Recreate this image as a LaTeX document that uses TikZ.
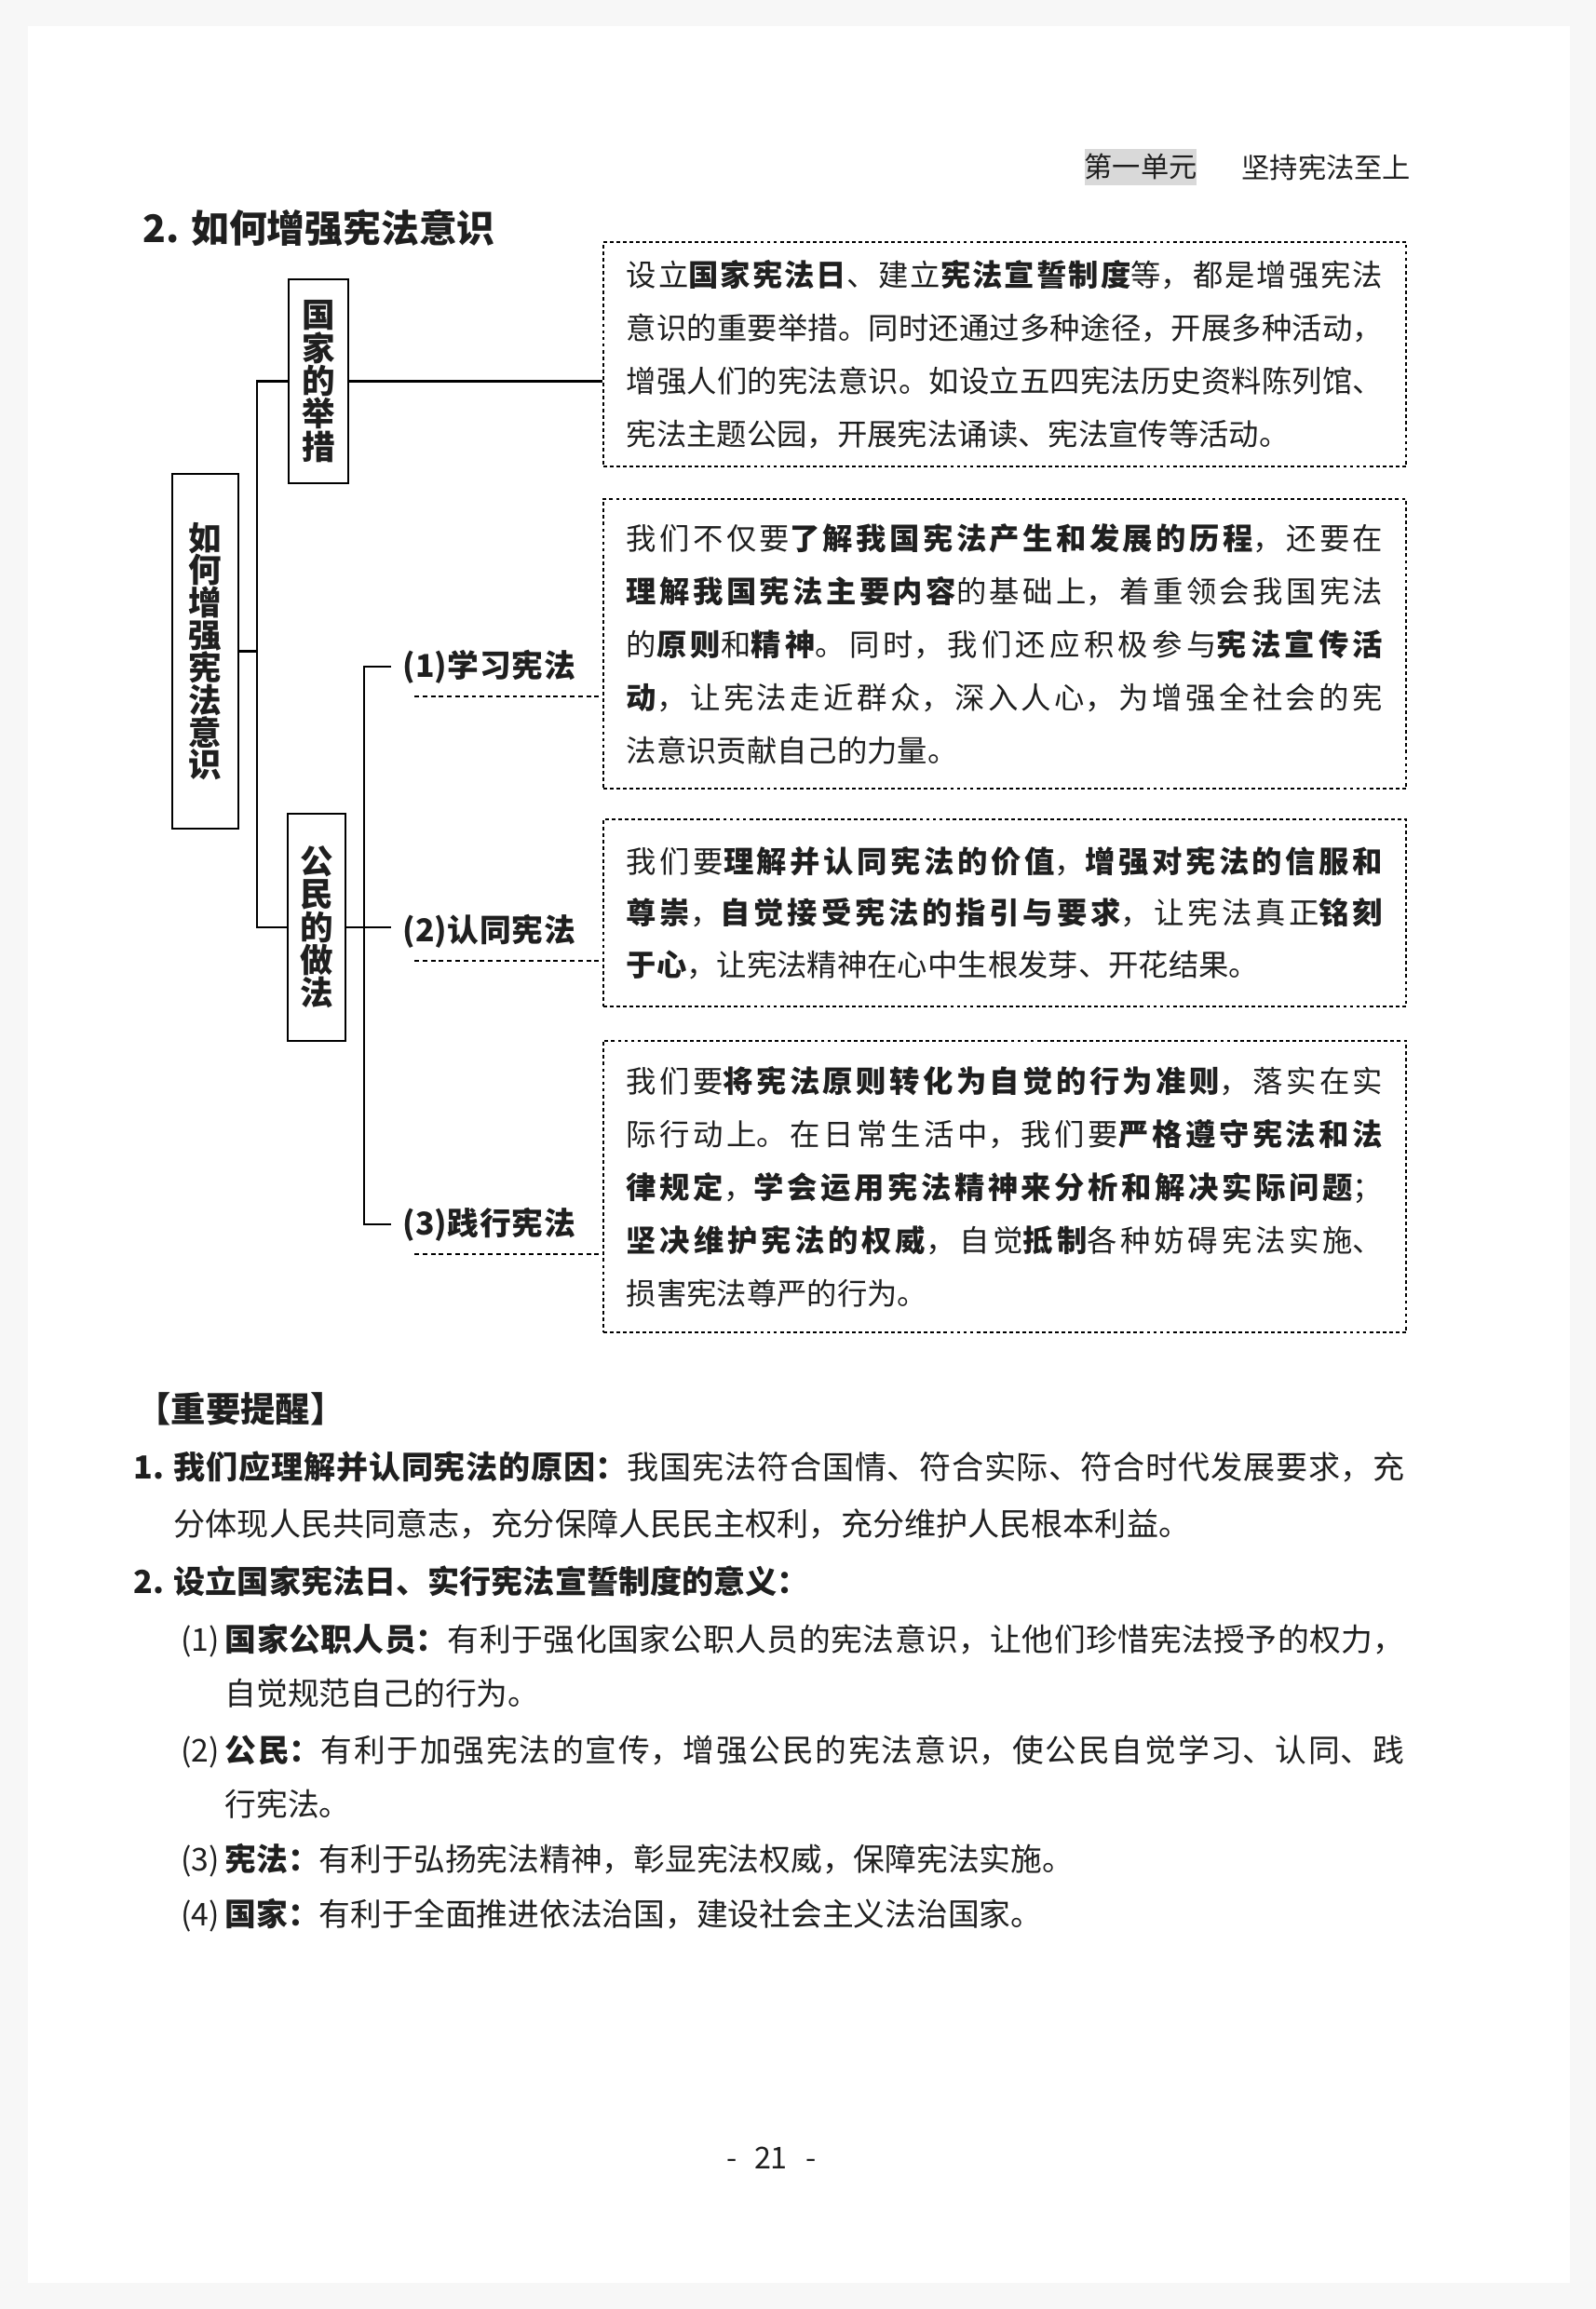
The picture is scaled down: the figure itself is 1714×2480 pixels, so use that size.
\documentclass[tikz,border=0pt]{standalone}
\usepackage{fontspec}
\setmainfont{Noto Sans CJK SC}
\usetikzlibrary{positioning}
\XeTeXlinebreaklocale "zh"
\XeTeXlinebreakskip=0pt plus 8pt
\setlength\parindent{0pt}
\newlength\tw
\setlength\tw{8.12cm}
\newcommand\tightlines{\lineskiplimit-10pt\relax}

\begin{document}
\begin{tikzpicture}[
  x=0.01cm, y=-0.01cm, text=black!88,
  vbox/.style={draw,line width=0.7pt,inner sep=0pt,align=center,
    font=\fontsize{10.1pt}{10.05pt}\selectfont\bfseries\tightlines},
  lab/.style={anchor=west,inner xsep=0.12cm,inner ysep=0pt,minimum height=0.62cm,
    font=\fontsize{9.6pt}{11pt}\selectfont\bfseries},
  note/.style={draw,dash pattern=on 1.1pt off 0.9pt,line width=0.5pt,text width=\tw,
    align=justify,inner xsep=0.25cm,inner ysep=0pt,font=\fontsize{9.2pt}{16.2pt}\selectfont},
  link/.style={line width=0.6pt},
  dline/.style={dash pattern=on 1.4pt off 1.1pt,line width=0.5pt},
  body/.style={anchor=west,inner sep=0pt,align=justify,font=\fontsize{9.6pt}{16.5pt}\selectfont},
  item/.style={anchor=west,inner sep=0pt,font=\fontsize{9.6pt}{12pt}\selectfont},
]
\useasboundingbox (0,0) rectangle (1714,2480);
\fill[black!3] (0,0) rectangle (1714,2480);
\fill[white] (30,28) rectangle (1686,2452);

% ===== header and title =====
\node[fill=black!15,minimum width=1.2cm,minimum height=0.39cm,inner sep=0pt,
  font=\fontsize{8.6pt}{10pt}\selectfont] (unit) at (1225,179) {第一单元};
\node[anchor=west,inner sep=0pt,font=\fontsize{8.6pt}{10pt}\selectfont] (unitname) at (1333,180) {坚持宪法至上};
\node[anchor=west,inner sep=0pt,font=\fontsize{11.6pt}{13pt}\selectfont\bfseries] (title) at (153,245) {2. 如何增强宪法意识};

% ===== tree =====
\node[vbox,minimum width=0.71cm,minimum height=3.81cm,
  font=\fontsize{10.1pt}{9.9pt}\selectfont\bfseries\tightlines] (topic) at (220.5,699.5)
  {如\\何\\增\\强\\宪\\法\\意\\识};
\node[vbox,minimum width=0.64cm,minimum height=2.19cm] (state) at (342,409.5) {国\\家\\的\\举\\措};
\node[vbox,minimum width=0.62cm,minimum height=2.44cm] (citizen) at (340,996) {公\\民\\的\\做\\法};

\node[lab] (learn)    at (420,716)  {\makebox[1.85cm]{(1)\hfill 学\hfill 习\hfill 宪\hfill 法}};
\node[lab] (accept)   at (420,1000) {\makebox[1.85cm]{(2)\hfill 认\hfill 同\hfill 宪\hfill 法}};
\node[lab] (practise) at (420,1315) {\makebox[1.85cm]{(3)\hfill 践\hfill 行\hfill 宪\hfill 法}};

\node[note,minimum height=2.41cm] (b1) at (1079,380.5) {%
设立\textbf{国家宪法日}、建立\textbf{宪法宣誓制度}等，都是增强宪法\linebreak
意识的重要举措。同时还通过多种途径，开展多种活动，\linebreak
增强人们的宪法意识。如设立五四宪法历史资料陈列馆、\linebreak
宪法主题公园，开展宪法诵读、宪法宣传等活动。};
\node[note,minimum height=3.11cm] (b2) at (1079,691.5) {%
我们不仅要\textbf{了解我国宪法产生和发展的历程}，还要在\linebreak
\textbf{理解我国宪法主要内容}的基础上，着重领会我国宪法\linebreak
的\textbf{原则}和\textbf{精神}。同时，我们还应积极参与\textbf{宪法宣传活}\linebreak
\textbf{动}，让宪法走近群众，深入人心，为增强全社会的宪\linebreak
法意识贡献自己的力量。};
\node[note,minimum height=2.01cm,font=\fontsize{9.2pt}{15.7pt}\selectfont] (b3) at (1079,980.5) {%
我们要\textbf{理解并认同宪法的价值}，\textbf{增强对宪法的信服和}\linebreak
\textbf{尊崇}，\textbf{自觉接受宪法的指引与要求}，让宪法真正\textbf{铭刻}\linebreak
\textbf{于心}，让宪法精神在心中生根发芽、开花结果。};
\node[note,minimum height=3.13cm] (b4) at (1079,1274.5) {%
我们要\textbf{将宪法原则转化为自觉的行为准则}，落实在实\linebreak
际行动上。在日常生活中，我们要\textbf{严格遵守宪法和法}\linebreak
\textbf{律规定}，\textbf{学会运用宪法精神来分析和解决实际问题}；\linebreak
\textbf{坚决维护宪法的权威}，自觉\textbf{抵制}各种妨碍宪法实施、\linebreak
损害宪法尊严的行为。};

\coordinate (trunk) at (276,697);
\coordinate (fork) at (391,996);
\draw[link] (topic.east) -- (topic.east -| trunk);
\draw[link] (state.west) -| (trunk) |- (citizen.west);
\draw[link] (state.east) -- (state.east -| b1.west);
\draw[link] (citizen.east) -- (citizen.east -| accept.west);
\draw[link] (learn.west) -| (fork) |- (practise.west);
\foreach \l/\b in {learn/b2,accept/b3,practise/b4}
  \draw[dline] ([xshift=0.25cm]\l.south west) -- (\l.south west -| \b.west);

% ===== reminders =====
\node[anchor=west,inner sep=0pt,font=\fontsize{10.6pt}{12pt}\selectfont\bfseries] (remind) at (146,1513) {【重要提醒】};
\node[body,text width=13.21cm,font=\fontsize{9.7pt}{17.6pt}\selectfont] (reason) at (186,1606) {%
\makebox[0pt][r]{\textbf{1.}\hspace{0.1cm}}\textbf{我们应理解并认同宪法的原因：}我国宪法符合国情、符合实际、符合时代发展要求，充\linebreak
分体现人民共同意志，充分保障人民民主权利，充分维护人民根本利益。};
\node[item,font=\fontsize{9.7pt}{12pt}\selectfont\bfseries] (meaning) at (186,1698)
  {\makebox[0pt][r]{2.\hspace{0.1cm}}设立国家宪法日、实行宪法宣誓制度的意义：};
\node[body,text width=12.66cm] (m1) at (241,1789) {%
\makebox[0pt][r]{(1)\hspace{0.06cm}}\textbf{国家公职人员：}有利于强化国家公职人员的宪法意识，让他们珍惜宪法授予的权力，\linebreak
自觉规范自己的行为。};
\node[body,text width=12.66cm] (m2) at (241,1909) {%
\makebox[0pt][r]{(2)\hspace{0.06cm}}\textbf{公民：}有利于加强宪法的宣传，增强公民的宪法意识，使公民自觉学习、认同、践\linebreak
行宪法。};
\node[item] (m3) at (241,1998) {\makebox[0pt][r]{(3)\hspace{0.06cm}}\textbf{宪法：}有利于弘扬宪法精神，彰显宪法权威，保障宪法实施。};
\node[item] (m4) at (241,2057) {\makebox[0pt][r]{(4)\hspace{0.06cm}}\textbf{国家：}有利于全面推进依法治国，建设社会主义法治国家。};

\node[font=\fontsize{9.2pt}{11pt}\selectfont] (page) at (829,2318) {-\hspace{0.18cm}21\hspace{0.2cm}-};
\end{tikzpicture}
\end{document}
